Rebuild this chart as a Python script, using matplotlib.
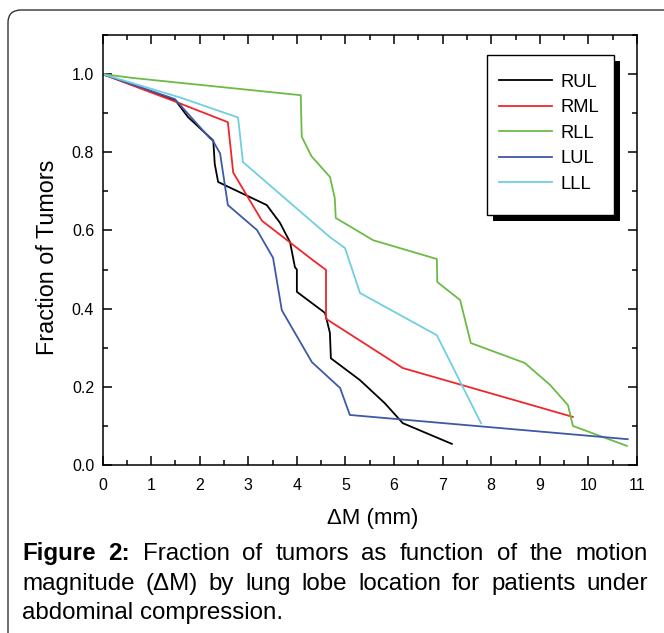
import matplotlib
matplotlib.use("Agg")

import matplotlib.pyplot as plt
from matplotlib.patches import FancyBboxPatch, Rectangle
from matplotlib.ticker import MultipleLocator, FormatStrFormatter

plt.rcParams["font.family"] = ["Liberation Sans", "DejaVu Sans"]

# data (x = delta M in mm, y = fraction of tumors)
rul_x = [0, 1.5, 1.76, 2.28, 2.31, 2.38, 3.38, 3.65, 3.86, 3.96, 4.0, 4.0,
         4.58, 4.68, 4.70, 5.30, 5.81, 6.18, 7.19]
rul_y = [1.0, 0.933, 0.89, 0.83, 0.77, 0.724, 0.665, 0.62, 0.57, 0.506, 0.50,
         0.443, 0.389, 0.338, 0.273, 0.217, 0.158, 0.107, 0.054]

rml_x = [0, 1.49, 2.58, 2.69, 3.28, 4.33, 4.6, 4.6, 6.18, 9.68]
rml_y = [1.0, 0.93, 0.877, 0.748, 0.625, 0.524, 0.499, 0.374, 0.248, 0.123]

rll_x = [0, 0.63, 4.08, 4.1, 4.3, 4.68, 4.78, 4.80, 5.57, 6.88, 6.89, 7.36,
         7.58, 8.69, 9.21, 9.58, 9.68, 10.79]
rll_y = [1.0, 0.99, 0.946, 0.84, 0.79, 0.737, 0.683, 0.632, 0.575, 0.527,
         0.468, 0.422, 0.312, 0.261, 0.205, 0.153, 0.10, 0.049]

lul_x = [0, 1.49, 2.21, 2.27, 2.42, 2.58, 3.18, 3.51, 3.69, 4.31, 4.89, 5.09,
         10.81]
lul_y = [1.0, 0.936, 0.836, 0.83, 0.797, 0.665, 0.601, 0.53, 0.396, 0.263,
         0.197, 0.128, 0.066]

lll_x = [0, 1.6, 2.79, 2.89, 4.68, 4.99, 5.30, 6.88, 7.79]
lll_y = [1.0, 0.94, 0.889, 0.775, 0.583, 0.555, 0.44, 0.332, 0.107]

series = [
    ("RUL", rul_x, rul_y, "#000000"),
    ("RML", rml_x, rml_y, "#f0262b"),
    ("RLL", rll_x, rll_y, "#6cbb45"),
    ("LUL", lul_x, lul_y, "#3d59a8"),
    ("LLL", lll_x, lll_y, "#6fcfe0"),
]

W, H = 664, 633
AX_L, AX_R, AX_T, AX_B = 102.5, 637, 35, 465


def fig_xy(px, py):
    """Pixel position (from top-left) -> figure fraction."""
    return px / W, 1 - py / H


fig = plt.figure(figsize=(W / 100, H / 100), dpi=100)
fig.patch.set_facecolor("white")

# rounded panel border (only the top-left corner shows)
border = FancyBboxPatch(
    fig_xy(8, 650), 700 / W, 640 / H,
    boxstyle="round,pad=0,rounding_size=0.02",
    transform=fig.transFigure, facecolor="none",
    edgecolor="#333333", linewidth=1.0, clip_on=False,
)
fig.patches.append(border)

ax = fig.add_axes([AX_L / W, 1 - AX_B / H, (AX_R - AX_L) / W, (AX_B - AX_T) / H])
ax_w, ax_h = AX_R - AX_L, AX_B - AX_T

for name, xs, ys, color in series:
    ax.plot(xs, ys, color=color, linewidth=1.3, label=name)

ax.set_xlim(0, 11)
ax.set_ylim(0, 1.1)
ax.xaxis.set_major_locator(MultipleLocator(1))
ax.xaxis.set_minor_locator(MultipleLocator(0.5))
ax.yaxis.set_major_locator(MultipleLocator(0.2))
ax.yaxis.set_minor_locator(MultipleLocator(0.1))
ax.yaxis.set_major_formatter(FormatStrFormatter("%.1f"))

ax.tick_params(which="both", direction="in", top=True, right=True,
               width=1.1, labelsize=11.5)
ax.tick_params(which="major", length=6.5)
ax.tick_params(which="minor", length=3.6)
ax.tick_params(axis="y", pad=6)
ax.tick_params(axis="x", pad=9)
for spine in ax.spines.values():
    spine.set_linewidth(1.1)

ax.set_xlabel("\u0394M (mm)", fontsize=16)
ax.set_ylabel("Fraction of Tumors", fontsize=16.8)
ax.xaxis.set_label_coords((373 - AX_L) / ax_w, -(508 - AX_B) / ax_h)
ax.yaxis.set_label_coords((59 - AX_L) / ax_w, (AX_B - 257) / ax_h)

# legend entries (frame and shadow are drawn by hand to match the box)
leg_fs = 13.2
leg_kw = dict(loc="upper left", frameon=False, fontsize=leg_fs,
              handlelength=2.9, handletextpad=0.45, borderpad=0, borderaxespad=0)
leg = ax.legend(bbox_to_anchor=(0.7, 0.95), labelspacing=0.45, **leg_kw)

renderer = fig.canvas.get_renderer()
fig.canvas.draw()
# fix row spacing to about 25.5 px
tb = [t.get_window_extent(renderer) for t in leg.get_texts()]
step = (tb[0].y0 - tb[-1].y0) / (len(tb) - 1)
leg_ls = 0.45 + (25.5 - step) / (leg_fs * 100 / 72)
leg.remove()
leg = ax.legend(bbox_to_anchor=(0.7, 0.95), labelspacing=leg_ls, **leg_kw)
leg.set_zorder(6)
fig.canvas.draw()
# shift so first label sits at x=560, centre y=82 (pixels from top-left)
t0 = leg.get_texts()[0].get_window_extent(renderer)
dx = 560 - t0.x0
dy = (H - 82) - (t0.y0 + t0.y1) / 2
leg.set_bbox_to_anchor((0.7 + dx / ax_w, 0.95 + dy / ax_h), transform=ax.transAxes)

box_x0, box_y0, box_x1, box_y1 = 487, 55, 614, 215
shadow = Rectangle(
    fig_xy(box_x0 + 6, box_y1 + 6), (box_x1 - box_x0) / W, (box_y1 - box_y0) / H,
    transform=fig.transFigure, facecolor="black", edgecolor="none",
    zorder=4, clip_on=False,
)
frame = Rectangle(
    fig_xy(box_x0, box_y1), (box_x1 - box_x0) / W, (box_y1 - box_y0) / H,
    transform=fig.transFigure, facecolor="white", edgecolor="black",
    linewidth=1.0, zorder=5, clip_on=False,
)
ax.add_patch(shadow)
ax.add_patch(frame)

# justified caption
cap_size = 17.4
lines = [
    [("Figure", "bold"), ("2:", "bold"), ("Fraction", "normal"), ("of", "normal"),
     ("tumors", "normal"), ("as", "normal"), ("function", "normal"),
     ("of", "normal"), ("the", "normal"), ("motion", "normal")],
    [(w, "normal") for w in
     "magnitude (\u0394M) by lung lobe location for patients under".split()],
    [(w, "normal") for w in "abdominal compression.".split()],
]
left_px, right_px = 22, 648
line_y = [560, 590, 619]
space_w = (fig.text(0, 0, "a a", fontsize=cap_size).get_window_extent(renderer).width
           - 2 * fig.text(0, 0, "a", fontsize=cap_size).get_window_extent(renderer).width)
for t in fig.texts[-2:]:
    t.remove()
for i, (words, ypx) in enumerate(zip(lines, line_y)):
    texts = [fig.text(0, 1 - ypx / H, w, fontsize=cap_size, fontweight=fw,
                      va="baseline", ha="left") for w, fw in words]
    widths = [t.get_window_extent(renderer).width for t in texts]
    if i < len(lines) - 1:
        gap = (right_px - left_px - sum(widths)) / (len(words) - 1)
    else:
        gap = space_w
    x = left_px
    for t, w in zip(texts, widths):
        t.set_x(x / W)
        x += w + gap

fig.savefig("out.png", dpi=100)
